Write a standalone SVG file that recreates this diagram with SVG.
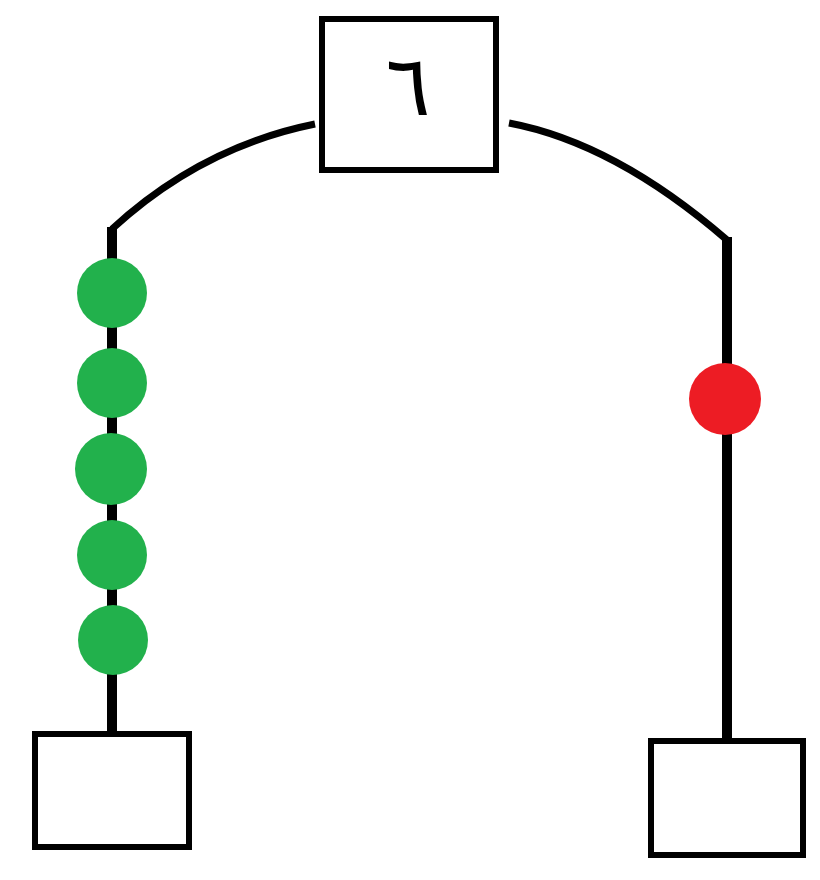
<svg xmlns="http://www.w3.org/2000/svg" width="820" height="880" viewBox="0 0 820 880">
<style>
.box{fill:#fff;stroke:#000;stroke-width:6}
.arc{fill:none;stroke:#000;stroke-width:7}
.pole{fill:none;stroke:#000;stroke-width:10}
.g{fill:#22b14c}
.r{fill:#ed1c24}
.lbl{font-family:"DejaVu Sans","Noto Sans",sans-serif;font-size:84px;fill:#000}
</style>
<rect width="820" height="880" fill="#fff"/>
<g id="connectors">
<path class="arc" d="M112,229 Q201,147 315,124"/>
<path class="arc" d="M509,123 Q615,143 727,240"/>
<line class="pole" x1="112" y1="227" x2="112" y2="734"/>
<line class="pole" x1="727" y1="237" x2="727" y2="741"/>
</g>
<g id="top">
<rect class="box" x="322" y="19" width="174" height="151"/>
<text class="lbl" x="408" y="115" text-anchor="middle">٦</text>
</g>
<g id="bottom-left"><rect class="box" x="35" y="734" width="154" height="113"/></g>
<g id="bottom-right"><rect class="box" x="651" y="741" width="152" height="114"/></g>
<g id="beads-left">
<circle class="g" cx="112" cy="293" r="35"/>
<circle class="g" cx="112" cy="383" r="35"/>
<circle class="g" cx="111" cy="469" r="36"/>
<circle class="g" cx="112" cy="555" r="35"/>
<circle class="g" cx="113" cy="640" r="35"/>
</g>
<g id="bead-right"><circle class="r" cx="725" cy="399" r="36"/></g>
</svg>
